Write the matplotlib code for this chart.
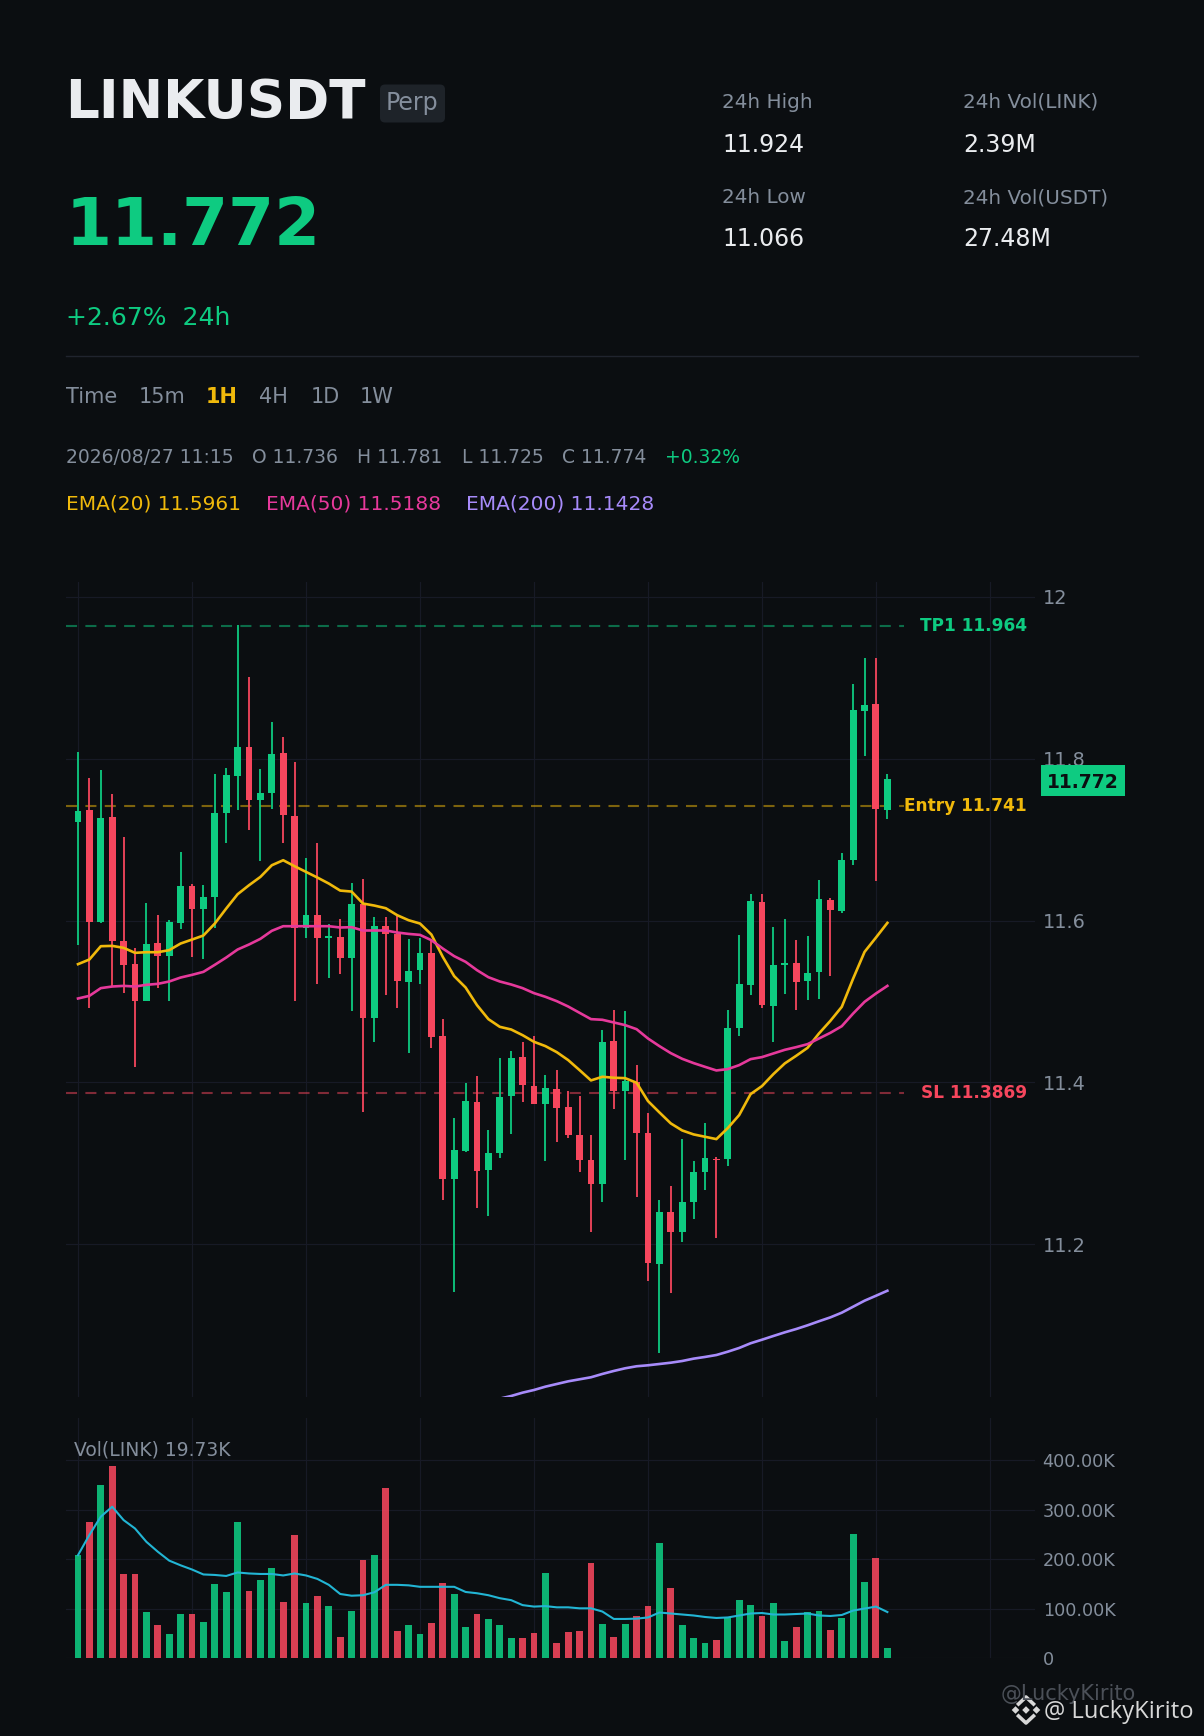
import matplotlib
matplotlib.use('Agg')
import matplotlib.pyplot as plt
from matplotlib.patches import FancyBboxPatch, Polygon, Rectangle
from matplotlib.transforms import blended_transform_factory

W, H = 1204, 1736
BG = '#0b0e11'
GREEN = '#0ecb81'
RED = '#f6465d'
GOLD = '#f0b90b'
PINK = '#e6399b'
PURPLE = '#a78bfa'
CYAN = '#22b5d4'
GREY = '#848e9c'
WHITE = '#eaecef'
GRID = '#171a26'

opens = [11.7214, 11.736, 11.598, 11.7276, 11.5745, 11.5461, 11.5004, 11.572, 11.556, 11.5967,
         11.6424, 11.614, 11.6288, 11.7325, 11.7782, 11.814, 11.7486, 11.7572, 11.8066, 11.7288,
         11.5905, 11.6066, 11.5782, 11.5794, 11.5535, 11.6202, 11.4794, 11.593, 11.5831, 11.5239,
         11.5387, 11.5597, 11.4572, 11.2807, 11.3152, 11.3757, 11.2918, 11.3128, 11.3831, 11.4313,
         11.3955, 11.3733, 11.3918, 11.3695, 11.335, 11.3041, 11.2745, 11.451, 11.3893, 11.4004,
         11.3374, 11.1757, 11.2399, 11.2152, 11.2523, 11.2893, 11.3053, 11.3053, 11.4671, 11.5202,
         11.6226, 11.4942, 11.5453, 11.5473, 11.5251, 11.5362, 11.6251, 11.6115, 11.6745, 11.8584,
         11.8671, 11.7362]
closes = [11.735, 11.598, 11.7263, 11.5745, 11.5449, 11.5004, 11.5708, 11.556, 11.598, 11.6424,
          11.614, 11.6288, 11.7325, 11.7794, 11.814, 11.7486, 11.7572, 11.8053, 11.73, 11.5905,
          11.6066, 11.5782, 11.5807, 11.5535, 11.6202, 11.4794, 11.593, 11.5831, 11.5251, 11.5374,
          11.5597, 11.456, 11.2807, 11.3165, 11.377, 11.2905, 11.3128, 11.3819, 11.43, 11.3967,
          11.3733, 11.393, 11.3683, 11.335, 11.3041, 11.2745, 11.4498, 11.3893, 11.4016, 11.3374,
          11.177, 11.2399, 11.2152, 11.2523, 11.2893, 11.3066, 11.3045, 11.4671, 11.5214, 11.6239,
          11.4955, 11.5449, 11.5473, 11.5239, 11.535, 11.6263, 11.6128, 11.6745, 11.8597, 11.8658,
          11.7374, 11.7745]
highs = [11.808, 11.7757, 11.7856, 11.756, 11.7029, 11.5658, 11.6214, 11.6066, 11.6004, 11.6844,
         11.6449, 11.6436, 11.7807, 11.7881, 11.9646, 11.9004, 11.7868, 11.8449, 11.8263, 11.7955,
         11.677, 11.6955, 11.5955, 11.6016, 11.6461, 11.651, 11.6041, 11.6041, 11.6053, 11.577,
         11.5782, 11.5745, 11.4782, 11.356, 11.3992, 11.4078, 11.3412, 11.43, 11.4387, 11.4498,
         11.4572, 11.4091, 11.4152, 11.3893, 11.3831, 11.335, 11.4646, 11.4893, 11.4881, 11.4214,
         11.3621, 11.2547, 11.2724, 11.3305, 11.3029, 11.3498, 11.3078, 11.4893, 11.5819, 11.6325,
         11.6325, 11.5918, 11.6016, 11.5757, 11.5807, 11.6498, 11.6276, 11.6831, 11.8918, 11.9239,
         11.9239, 11.7807]
lows = [11.5695, 11.4918, 11.5967, 11.519, 11.5103, 11.4189, 11.5004, 11.5165, 11.5004, 11.5893,
        11.5547, 11.5523, 11.5905, 11.6955, 11.7362, 11.7115, 11.6733, 11.7374, 11.6955, 11.5004,
        11.5782, 11.5214, 11.5288, 11.5337, 11.4881, 11.3634, 11.4498, 11.5078, 11.4918, 11.4362,
        11.5214, 11.4424, 11.2547, 11.1412, 11.314, 11.2449, 11.235, 11.3066, 11.3362, 11.3757,
        11.3733, 11.3029, 11.3263, 11.3313, 11.2893, 11.2152, 11.2523, 11.3671, 11.3041, 11.2584,
        11.1547, 11.0658, 11.14, 11.2029, 11.2313, 11.2671, 11.2078, 11.2967, 11.4572, 11.5078,
        11.4918, 11.4498, 11.5091, 11.4893, 11.5016, 11.5029, 11.5313, 11.6091, 11.6683, 11.8029,
        11.6486, 11.7251]

ema20 = [11.5461, 11.5519, 11.5683, 11.5687, 11.5663, 11.5601, 11.5609, 11.5609, 11.5634, 11.5716,
         11.5765, 11.5815, 11.5963, 11.6148, 11.6325, 11.6436, 11.6539, 11.6683, 11.6745, 11.6671,
         11.6601, 11.6531, 11.6457, 11.637, 11.6358, 11.621, 11.6185, 11.6152, 11.6066, 11.6004,
         11.5963, 11.5827, 11.5551, 11.5313, 11.5173, 11.4955, 11.4782, 11.4687, 11.4654, 11.4584,
         11.4502, 11.4449, 11.4374, 11.4276, 11.4152, 11.4025, 11.407, 11.4058, 11.4053, 11.3996,
         11.377, 11.363, 11.3494, 11.3407, 11.3358, 11.3329, 11.33, 11.3436, 11.3597, 11.3856,
         11.3955, 11.4103, 11.4235, 11.4329, 11.4428, 11.4605, 11.4761, 11.4934, 11.5284, 11.5613,
         11.579, 11.5971]
ema50 = [11.5037, 11.507, 11.5165, 11.5185, 11.5193, 11.5185, 11.5206, 11.5218, 11.5247, 11.5296,
         11.5329, 11.5366, 11.5453, 11.5543, 11.5642, 11.5704, 11.5774, 11.5873, 11.593, 11.593,
         11.593, 11.593, 11.593, 11.5914, 11.5918, 11.5877, 11.5877, 11.5877, 11.5852, 11.5835,
         11.5823, 11.5757, 11.5654, 11.556, 11.549, 11.5387, 11.53, 11.5247, 11.521, 11.5165,
         11.5103, 11.5058, 11.5004, 11.4938, 11.486, 11.4782, 11.4774, 11.4741, 11.4708, 11.4658,
         11.4543, 11.4449, 11.4362, 11.4292, 11.4239, 11.4193, 11.4148, 11.4165, 11.4214, 11.4288,
         11.4313, 11.4358, 11.4403, 11.4436, 11.4473, 11.4543, 11.4613, 11.4695, 11.4852, 11.4996,
         11.5099, 11.5193]
# the 200 line is below the visible range before this candle
ema200_start = 37
ema200 = [11.0094, 11.0127, 11.0168, 11.0201, 11.0242, 11.0275, 11.0308, 11.0333, 11.0358, 11.0399,
          11.0436, 11.0469, 11.0494, 11.0506, 11.0522, 11.0538, 11.0559, 11.0588, 11.0609, 11.0633,
          11.0674, 11.072, 11.0778, 11.0822, 11.0868, 11.0913, 11.0954, 11.1, 11.105, 11.1098,
          11.1156, 11.123, 11.1304, 11.1365, 11.1427]

volumes = [208, 275, 350, 388.5, 170, 170, 93, 67, 48.6, 89,
           89, 73, 150, 133.6, 275, 135.6, 158, 182, 113, 249,
           111, 125.5, 105, 42.5, 95, 198, 208, 344, 54.6, 67,
           48.6, 71, 152, 129.5, 63, 89, 79, 67, 40.5, 40.5,
           50.6, 172, 30, 52.6, 54.6, 192, 69, 42.5, 69, 85,
           105, 233, 141.6, 67, 40.5, 30, 36, 83, 117, 107,
           85, 111, 34, 63, 93, 95, 57, 81, 251, 154,
           202, 19.73]
vol_ma = [208, 249, 286, 306, 279, 262, 235, 215, 197, 187.5,
          179, 169, 168, 166, 173, 171, 170, 170, 167, 171,
          167, 160, 148, 129.5, 126, 127, 133, 148, 148, 147,
          144, 144, 144, 144, 133.6, 131, 127, 121, 117, 107,
          104, 105, 102.5, 102.5, 100.5, 100.5, 94, 79, 79, 79.6,
          82, 92, 90, 88, 86, 83, 81, 82, 86, 90,
          91, 88, 88, 89, 90, 86, 85, 87, 96, 100,
          104, 93]

price_ticks = [11.2, 11.4, 11.6, 11.8, 12]
price_labels = ['11.2', '11.4', '11.6', '11.8', '12']
vol_ticks = [0, 100, 200, 300, 400]
vol_labels = ['0', '100.00K', '200.00K', '300.00K', '400.00K']
time_ticks = [0, 10, 20, 30, 40, 50, 60, 70, 80]

tp1 = 11.964
entry = 11.741
sl = 11.3869
last_price = 11.772


def pixel_axes(left, top, right, bottom):
    return fig.add_axes([left / W, 1 - bottom / H, (right - left) / W, (bottom - top) / H])


fig = plt.figure(figsize=(W / 100, H / 100), dpi=100, facecolor=BG)

ax = pixel_axes(66, 582, 1035, 1396.7)
vol = pixel_axes(66, 1418, 1035, 1658)
xs = list(range(len(closes)))

for a in (ax, vol):
    a.set_facecolor(BG)
    for s in a.spines.values():
        s.set_visible(False)
    a.set_xlim(-1.053, 83.95)
    a.set_xticks(time_ticks)
    a.grid(True, color=GRID, linewidth=0.85, zorder=1)
    a.set_axisbelow(True)
    a.yaxis.tick_right()
    a.tick_params(axis='x', length=0, labelbottom=False)
    a.tick_params(axis='y', length=0, pad=5.5, labelcolor=GREY)

ax.set_ylim(11.0118, 12.0182)
ax.set_yticks(price_ticks)
ax.set_yticklabels(price_labels, fontsize=13.9)
vol.set_ylim(0, 485.5)
vol.set_yticks(vol_ticks)
vol.set_yticklabels(vol_labels, fontsize=12.7)

colors = [GREEN if c >= o else RED for o, c in zip(opens, closes)]

# levels stop short of the label column
dash = (0, (5.3, 4.0))
for level, c in [(tp1, GREEN), (entry, GOLD), (sl, RED)]:
    ax.axhline(level, xmin=0, xmax=0.8648, color=c, alpha=0.5, linewidth=1.5, linestyle=dash, zorder=2)

ax.vlines(xs, lows, highs, colors=colors, linewidth=1.45, alpha=0.9, zorder=3)
ax.bar(xs, [abs(c - o) for o, c in zip(opens, closes)], bottom=[min(o, c) for o, c in zip(opens, closes)],
       width=0.61, color=colors, linewidth=0, zorder=4)

ax.plot(xs, ema20, color=GOLD, linewidth=1.9, zorder=5)
ax.plot(xs, ema50, color=PINK, linewidth=1.9, zorder=5)
ax.plot(xs[ema200_start:], ema200, color=PURPLE, linewidth=1.9, zorder=5)

blend = blended_transform_factory(ax.transAxes, ax.transData)
for level, txt, c in [(tp1, 'TP1 11.964', GREEN), (entry, 'Entry 11.741', GOLD), (sl, 'SL 11.3869', RED)]:
    ax.text(0.9917, level, txt, transform=blend, color=c, fontsize=12.25, fontweight='bold',
            ha='right', va='center', zorder=6)

ax.add_patch(Rectangle((1.0062, last_price - 0.0182), 0.0867, 0.038, transform=blend,
                       facecolor=GREEN, edgecolor='none', clip_on=False, zorder=7))
ax.text(1.0495, last_price + 0.0008, '11.772', transform=blend, color=BG, fontsize=13.5, fontweight='bold',
        ha='center', va='center_baseline', zorder=8)

vol.bar(xs, volumes, width=0.61, color=colors, alpha=0.88, linewidth=0, zorder=3)
vol.plot(xs, vol_ma, color=CYAN, linewidth=1.5, zorder=4)

# header, everything below is placed in image pixels
top = fig.add_axes([0, 0, 1, 1], facecolor='none', zorder=10)
top.set_xlim(0, W)
top.set_ylim(H, 0)
top.axis('off')


def label(x, y, s, color=GREY, size=14.4, weight='normal', **kw):
    top.text(x, y, s, color=color, fontsize=size, fontweight=weight, va='baseline', **kw)


label(65.5, 118, 'LINKUSDT', WHITE, 38.3, 'bold')
top.add_patch(FancyBboxPatch((384.5, 89), 56, 29, boxstyle='round,pad=4.5,rounding_size=5',
                             facecolor='#1e2329', edgecolor='none'))
label(386, 110, 'Perp', GREY, 17)
label(65.5, 245, '11.772', GREEN, 47.6, 'bold')
label(66, 325, '+2.67%  24h', GREEN, 18)

label(722, 107.5, '24h High')
label(722, 151.5, '11.924', WHITE, 17)
label(722, 203, '24h Low')
label(722, 246.5, '11.066', WHITE, 17)
label(963, 107.5, '24h Vol(LINK)')
label(963, 151.5, '2.39M', WHITE, 17)
label(963, 203, '24h Vol(USDT)')
label(963, 246.5, '27.48M', WHITE, 17)

top.plot([66, 1138], [356, 356], color='#20242e', linewidth=1)

for x, s in [(66.5, 'Time'), (139, '15m'), (259.5, '4H'), (310.5, '1D'), (359.5, '1W')]:
    label(x, 403, s, size=15)
label(206, 403, '1H', GOLD, 15, 'bold')

for x, s in [(66.5, '2026/08/27 11:15'), (252, 'O 11.736'), (357, 'H 11.781'),
             (461.5, 'L 11.725'), (561.5, 'C 11.774')]:
    label(x, 463.2, s, size=13.5)
label(665, 463.2, '+0.32%', GREEN, 13.5)

label(66.5, 510, 'EMA(20) 11.5961', GOLD, 14.5)
label(266.5, 510, 'EMA(50) 11.5188', PINK, 14.5)
label(466.5, 510, 'EMA(200) 11.1428', PURPLE, 14.5)

label(74, 1456, 'Vol(LINK) 19.73K', GREY, 13.5)

label(1001, 1700, '@LuckyKirito', '#4b5058', 15)
label(1044.5, 1717.5, '@ LuckyKirito', '#d8d8d8', 17.1, family='Open Sans')

# small exchange mark beside the handle
mark = '#d8d8d8'
for cx, cy in [(1026, 1710), (1015.5, 1710), (1036.5, 1710)]:
    top.add_patch(Polygon([(cx - 3.8, cy), (cx, cy - 3.8), (cx + 3.8, cy), (cx, cy + 3.8)], facecolor=mark, edgecolor='none'))
top.plot([1018.5, 1026, 1033.5], [1704, 1697, 1704], color=mark, linewidth=2.6)
top.plot([1018.5, 1026, 1033.5], [1716, 1723, 1716], color=mark, linewidth=2.6)

fig.savefig('out.png', dpi=100, facecolor=BG)
